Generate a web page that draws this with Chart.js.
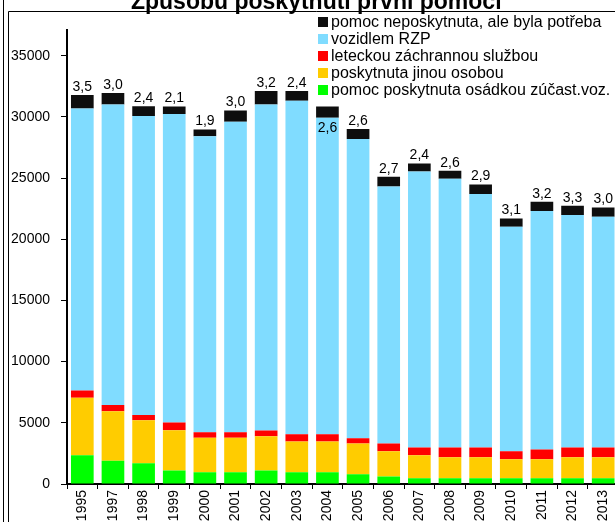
<!DOCTYPE html>
<html><head><meta charset="utf-8">
<script src="https://cdn.jsdelivr.net/npm/chart.js@4/dist/chart.umd.min.js"></script>
<style>
html,body{margin:0;padding:0;overflow:hidden;background:#fff;width:615px;height:522px;}
#wrap{position:absolute;left:0;top:-14px;width:625px;height:536px;}
</style></head><body>
<div id="wrap"><canvas id="c" width="625" height="536"></canvas></div>
<script>
const titleText = 'Způsobu poskytnutí první pomoci';
const years = ['1995','1997','1998','1999','2000','2001','2002','2003','2004','2005','2006','2007','2008','2009','2010','2011','2012','2013'];
const seriesNames = ['pomoc poskytnuta osádkou zúčast.voz.','poskytnuta jinou osobou','leteckou záchrannou službou','vozidlem RZP','pomoc neposkytnuta, ale byla potřeba'];
const crewHelp   = [2350,1900,1700,1100,950,950,1100,950,950,790,620,460,460,460,460,460,460,460];
const otherPerson= [4700,4050,3500,3300,2820,2820,2800,2520,2520,2510,2050,1890,1720,1720,1560,1560,1720,1720];
const airRescue  = [600,500,430,630,460,460,470,600,600,440,630,630,800,800,660,800,800,800];
const ambulance  = [23040,24570,24440,25200,24190,25370,26640,27250,25860,24450,21010,22560,21970,20720,18350,19490,19000,18860];
const noHelp     = [1100,930,790,620,550,920,1100,790,920,820,790,650,650,780,670,760,760,760];
const noHelpPct  = ['3,5','3,0','2,4','2,1','1,9','3,0','3,2','2,4','2,6','2,6','2,7','2,4','2,6','2,9','3,1','3,2','3,3','3,0'];
const yTicks = [0,5000,10000,15000,20000,25000,30000,35000];
const colors = ['#00FF00','#FFCC00','#FF0000','#80DCFF','#0E0E0E'];
const FONT = "'Liberation Sans', Arial, sans-serif";

const values = [crewHelp, otherPerson, airRescue, ambulance, noHelp];
const datasets = values.map((d,i)=>({
  label: seriesNames[i], data: d, backgroundColor: colors[i], borderWidth:0,
  stack:'s', barPercentage:0.74, categoryPercentage:1
}));

const framePlugin = {
  id:'frame',
  beforeDraw(chart){
    // let the y tick labels extend past the scale box without being clipped
    if (chart.scales.y) chart.scales.y._computeLabelArea = () => undefined;
    const ctx = chart.ctx;
    ctx.save();
    ctx.strokeStyle = '#000'; ctx.lineWidth = 1;
    ctx.beginPath();
    ctx.moveTo(3.5,0); ctx.lineTo(3.5,chart.height);
    ctx.moveTo(8.5,chart.height); ctx.lineTo(8.5,25.5); ctx.lineTo(chart.width,25.5);
    ctx.stroke();
    ctx.restore();
  }
};

const labelPlugin = {
  id:'pctLabels',
  afterDatasetsDraw(chart){
    const ctx = chart.ctx;
    const meta = chart.getDatasetMeta(4);
    const inside = years.indexOf('2004');
    ctx.save();
    ctx.font = '14px ' + FONT; ctx.fillStyle = '#000'; ctx.textAlign = 'center';
    meta.data.forEach((bar,i)=>{
      if (i === inside){ ctx.textBaseline='top'; ctx.fillText(noHelpPct[i], bar.x, bar.base+3); }
      else { ctx.textBaseline='bottom'; ctx.fillText(noHelpPct[i], bar.x, bar.y-1); }
    });
    ctx.restore();
  }
};

const legendPlugin = {
  id:'customLegend',
  afterDraw(chart){
    const ctx = chart.ctx;
    ctx.save();
    ctx.font = '16px ' + FONT; ctx.textBaseline = 'middle'; ctx.textAlign = 'left';
    for (let k=0;k<5;k++){
      const idx = 4-k;
      const y = 36 + k*17;
      ctx.fillStyle = colors[idx];
      ctx.fillRect(318, y-5, 10, 10);
      ctx.fillStyle = '#000';
      ctx.fillText(seriesNames[idx], 331, y+1);
    }
    ctx.restore();
  }
};

new Chart(document.getElementById('c'), {
  type:'bar',
  data:{labels:years, datasets},
  plugins:[framePlugin, labelPlugin, legendPlugin],
  options:{
    responsive:false, animation:false,
    layout:{padding:{left:14,right:6.5,top:0,bottom:0}},
    plugins:{
      legend:{display:false}, tooltip:{enabled:false},
      title:{display:true, text:titleText, color:'#000', font:{family:FONT,size:23,weight:'bold'}, padding:{top:3.2,bottom:13.2}}
    },
    scales:{
      x:{stacked:true,
        grid:{offset:true, drawOnChartArea:false, drawTicks:true, tickLength:5, color:'#000'},
        border:{display:true, color:'#000', width:2},
        ticks:{maxRotation:90, minRotation:90, autoSkip:false, color:'#000', padding:1, font:{family:FONT,size:14}},
        afterFit(s){ s.height = 38; }
      },
      y:{stacked:true, min:0, max:37100,
        grid:{drawOnChartArea:false, tickLength:6, color:'#000'},
        border:{display:true, color:'#000', width:2},
        afterBuildTicks(s){ s.ticks = yTicks.map(v=>({value:v})); },
        ticks:{color:'#000', padding:11, font:{family:FONT,size:14}, callback:(v)=>String(v)},
        afterFit(s){ s.width = 53; }
      }
    }
  }
});
</script>
</body></html>
